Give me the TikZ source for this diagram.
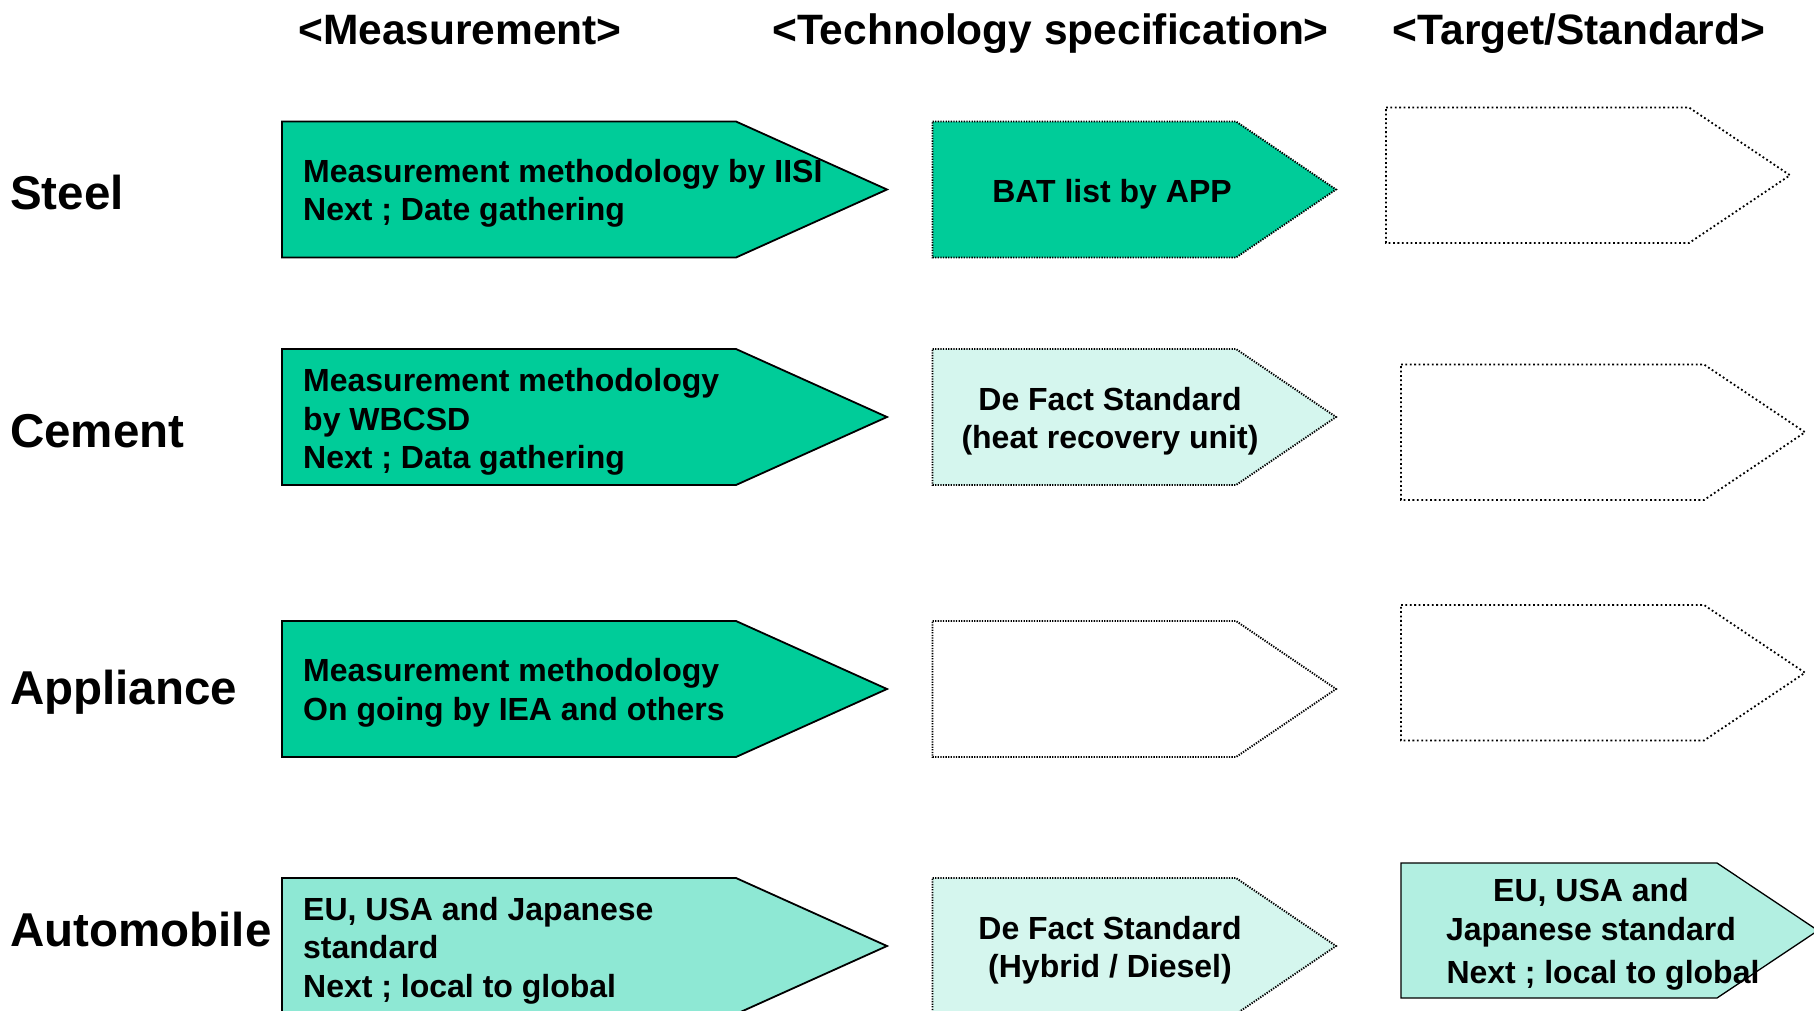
\documentclass[tikz,border=0pt]{standalone}
\usepackage{fontspec}
\setmainfont{Liberation Sans}
\usepackage{xcolor}

\definecolor{apgreen}{HTML}{00CC99}
\definecolor{apmint}{HTML}{8EE8D4}
\definecolor{appale}{HTML}{B2EFE1}
\definecolor{apice}{HTML}{D5F6EE}

\tikzset{
  solidarrow/.style={draw=black, line width=1.8pt},
  thinarrow/.style={draw=black, line width=1.3pt},
  finedots/.style={draw=black, line width=1.9pt, dash pattern=on 1.3pt off 1.3pt},
  sparsedots/.style={draw=black, line width=1.8pt, dash pattern=on 1.8pt off 2.6pt},
  rowlabel/.style={anchor=base west, inner sep=0pt, font=\fontsize{47.5}{57}\selectfont\bfseries},
  colhead/.style={anchor=base, inner sep=0pt, font=\fontsize{42.5}{51}\selectfont\bfseries},
  lefttext/.style={anchor=west, inner sep=0pt, align=left, font=\fontsize{32}{38.5}\selectfont\bfseries},
  midtext/.style={inner sep=0pt, align=center, font=\fontsize{32}{38.5}\selectfont\bfseries},
}

% #1 style, (#2,#3) top left, #4 body width, #5 tip depth, #6 height
\newcommand{\pentarrow}[6]{%
  \path[#1] (#2,#3) -- ++(#4,0) -- ++(#5,#6/2) -- ++(-#5,#6/2) -- ++(-#4,0) -- cycle;}

\begin{document}
\begin{tikzpicture}[x=1pt, y=-1pt]
    \useasboundingbox (0,0) rectangle (1814,1010);
    \clip (0,0) rectangle (1814,1010);

    % column heads
    \node[colhead] (hmeas) at (460,44) {<Measurement>};
    \node[colhead] (htech) at (1050.5,44) {<Technology specification>};
    \node[colhead] (htarget) at (1579,44) {<Target/Standard>};

    % row labels
    \node[rowlabel] (steel) at (10,209) {Steel};
    \node[rowlabel] (cement) at (10,447) {Cement};
    \node[rowlabel] (appliance) at (10,704) {Appliance};
    \node[rowlabel] (automobile) at (10,946) {Automobile};

    % measurement
    \pentarrow{solidarrow, fill=apgreen}{282}{121.5}{454}{151}{136}
    \pentarrow{solidarrow, fill=apgreen}{282}{349}{454}{151}{136}
    \pentarrow{solidarrow, fill=apgreen}{282}{621}{454}{151}{136}
    \pentarrow{solidarrow, fill=apmint}{282}{878}{454}{151}{136}

    % technology specification
    \pentarrow{finedots, fill=apgreen}{932.5}{121.5}{303.5}{100}{136}
    \pentarrow{finedots, fill=apice}{932.5}{349}{303.5}{100}{136}
    \pentarrow{finedots}{932.5}{621}{303.5}{100}{136}
    \pentarrow{finedots, fill=apice}{932.5}{878}{303.5}{100}{136}

    % target / standard
    \pentarrow{sparsedots}{1386}{107.5}{303}{101}{135.5}
    \pentarrow{sparsedots}{1401}{364.5}{303}{101}{135.5}
    \pentarrow{sparsedots}{1401}{605}{303}{101}{135.5}
    \pentarrow{thinarrow, fill=appale}{1401}{863}{316}{101}{135}

    \node[lefttext] (steelmeas) at (303,193.5) {Measurement methodology by IISI\\Next ; Date gathering};
    \node[lefttext] (cementmeas) at (303,422) {Measurement methodology\\by WBCSD\\Next ; Data gathering};
    \node[lefttext] (appmeas) at (303,693) {Measurement methodology\\On going by IEA and others};
    \node[lefttext] (automeas) at (303,950.5) {EU, USA and Japanese\\standard\\Next ; local to global};

    \node[midtext] (steeltech) at (1112,194) {BAT list by APP};
    \node[midtext] (cementtech) at (1110,421) {De Fact Standard\\(heat recovery unit)};
    \node[midtext] (autotech) at (1110,950) {De Fact Standard\\(Hybrid / Diesel)};

    \node[midtext] (autotarget) at (1591,934.5) {EU, USA and\\Japanese standard\\[4.5pt]\hspace*{24pt}Next ; local to global};
\end{tikzpicture}
\end{document}
